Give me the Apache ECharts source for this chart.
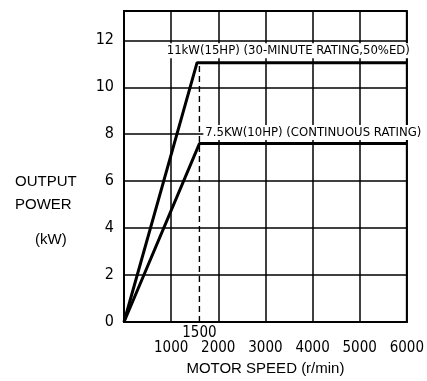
<!DOCTYPE html>
<html>
<head>
<meta charset="UTF-8">
<title>Output power</title>
<style>
  html, body { margin: 0; padding: 0; background: #fff; }
  #main { width: 427px; height: 381px; }
</style>
</head>
<body>
<div id="main"></div>
<script src="https://cdn.jsdelivr.net/npm/echarts@6/dist/echarts.min.js"></script>
<script>
// values
var rating30min = [[0, 0], [1550, 11.05], [6000, 11.05]];
var ratingCont = [[0, 0], [1600, 7.6], [6000, 7.6]];
var baseSpeed = [[1600, 0], [1600, 11.05]];
var baseSpeedLabel = '1500';
var label30min = '11kW(15HP) (30-MINUTE RATING,50%ED)';
var labelCont = '7.5KW(10HP) (CONTINUOUS RATING)';
var xTicks = [1000, 2000, 3000, 4000, 5000, 6000];
var yTicks = [0, 2, 4, 6, 8, 10, 12];

var narrow = "'Liberation Sans Narrow', 'DejaVu Sans Condensed', 'Liberation Sans', sans-serif";
var plain = "'Liberation Sans', 'DejaVu Sans', sans-serif";

var chart = echarts.init(document.getElementById('main'));

chart.setOption({
  animation: false,
  backgroundColor: '#fff',
  grid: {
    left: 124, right: 20, top: 11, bottom: 59,
    show: true, borderColor: '#000', borderWidth: 2
  },
  xAxis: {
    type: 'value', min: 0, max: 6000, interval: 1000,
    axisLine: { show: true, lineStyle: { color: '#000', width: 2 } },
    axisTick: { show: false },
    splitLine: { show: true, lineStyle: { color: '#000', width: 1.5 } },
    axisLabel: {
      color: '#000', fontFamily: narrow, fontSize: 15, margin: 19,
      formatter: function (v) { return xTicks.indexOf(v) >= 0 ? String(v) : ''; }
    },
    name: 'MOTOR SPEED (r/min)',
    nameLocation: 'middle', nameGap: 38,
    nameTextStyle: { color: '#000', fontFamily: plain, fontSize: 15 }
  },
  yAxis: {
    type: 'value', min: 0, max: 13.25, interval: 2,
    axisLine: { show: true, lineStyle: { color: '#000', width: 2 } },
    axisTick: { show: false },
    splitLine: { show: true, lineStyle: { color: '#000', width: 1.5 } },
    axisLabel: {
      color: '#000', fontFamily: narrow, fontSize: 16, margin: 10,
      formatter: function (v) { return yTicks.indexOf(v) >= 0 ? String(v) : ''; }
    }
  },
  graphic: [
    { type: 'text', left: 15, top: 174, style: { text: 'OUTPUT', fill: '#000', font: '15px ' + plain } },
    { type: 'text', left: 15, top: 197, style: { text: 'POWER', fill: '#000', font: '15px ' + plain } },
    { type: 'text', left: 35, top: 232, style: { text: '(kW)', fill: '#000', font: '15px ' + plain } }
  ],
  series: [
    {
      type: 'line', data: baseSpeed, symbol: 'none', z: 3,
      lineStyle: { color: '#000', width: 1.4, type: [6, 4] },
      markPoint: {
        symbol: 'rect', symbolSize: 0,
        data: [{ coord: baseSpeed[0] }],
        label: {
          show: true, position: 'bottom', distance: 4,
          formatter: baseSpeedLabel,
          color: '#000', fontFamily: narrow, fontSize: 15
        }
      }
    },
    {
      type: 'line', data: rating30min, symbol: 'none', z: 5,
      lineStyle: { color: '#000', width: 3 },
      markPoint: {
        symbol: 'rect', symbolSize: 0,
        data: [{ coord: [800, 11.05] }],
        label: {
          show: true, position: 'right', offset: [-2, -12],
          formatter: label30min,
          color: '#000', fontFamily: narrow, fontSize: 13,
          backgroundColor: '#fff', padding: [1, 2]
        }
      }
    },
    {
      type: 'line', data: ratingCont, symbol: 'none', z: 5,
      lineStyle: { color: '#000', width: 3 },
      markPoint: {
        symbol: 'rect', symbolSize: 0,
        data: [{ coord: [1620, 7.6] }],
        label: {
          show: true, position: 'right', offset: [-2, -11],
          formatter: labelCont,
          color: '#000', fontFamily: narrow, fontSize: 13,
          backgroundColor: '#fff', padding: [1, 2]
        }
      }
    }
  ]
});
</script>
</body>
</html>
